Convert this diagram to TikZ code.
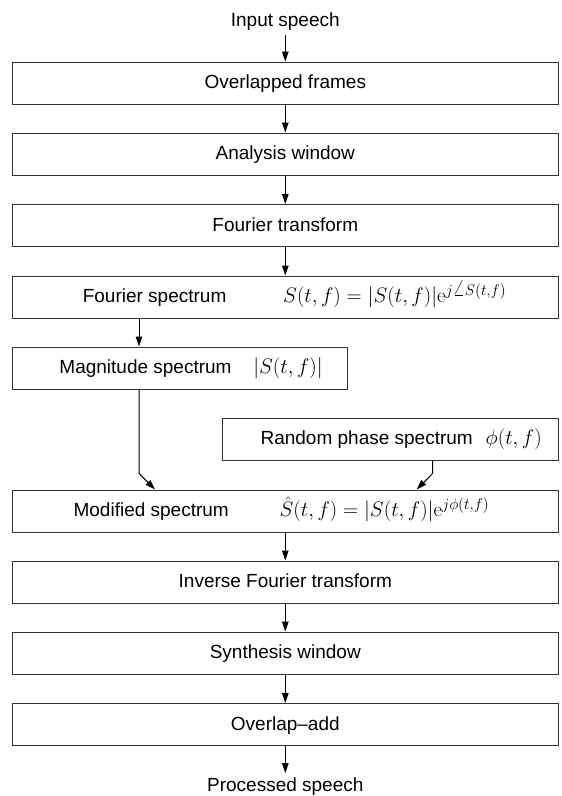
\documentclass[tikz,border=0pt]{standalone}
\usepackage{fix-cm}
\usepackage[no-math]{fontspec}
\setmainfont{Liberation Sans}
\DeclareMathSizes{21}{21}{15.5}{11}
\usetikzlibrary{arrows.meta}
\begin{document}
\begin{tikzpicture}[x=1pt,y=-1pt,
  every node/.style={font=\fontsize{19}{23}\selectfont},
  box/.style={draw=black!80, line width=1pt, minimum height=42pt, inner sep=0pt, text height=13.7pt, text depth=2pt},
  lbl/.style={inner sep=0pt, text height=13.7pt, text depth=2pt},
  mth/.style={lbl, font=\fontsize{21}{25}\selectfont},
  io/.style={inner sep=4pt, text height=13.7pt, text depth=4pt, anchor=base},
  arr/.style={draw=black, line width=1pt, -{Triangle[length=10pt,width=6.5pt]}}]
\useasboundingbox (0,0) rectangle (562,796);
% input / output
\node[io] (in) at (285.3,26.8) {Input speech};
\node[io] (out) at (285.3,791) {Processed speech};
% main boxes
\node[box, minimum width=546pt] (b1) at (285.3,83) {Overlapped frames};
\node[box, minimum width=546pt] (b2) at (285.3,154) {Analysis window};
\node[box, minimum width=546pt] (b3) at (285.3,225.5) {Fourier transform};
\node[box, minimum width=546pt] (b4) at (285.3,297) {};
\node[lbl] (b4t) at (154.6,297) {Fourier spectrum};
\node[mth] (b4m) at (394.7,297) {$S(t,f)=|S(t,f)|\mathrm{e}^{j\angle S(t,f)}$};
\node[box, minimum width=335.4pt] (b5) at (180,368) {};
\node[lbl] (b5t) at (145.5,368) {Magnitude spectrum};
\node[mth] (b5m) at (288,368) {$|S(t,f)|$};
\node[box, minimum width=335.6pt] (rp) at (390.5,439) {};
\node[lbl] (rpt) at (366.7,439) {Random phase spectrum};
\node[mth] (rpm) at (513.7,439) {$\phi(t,f)$};
\node[box, minimum width=546pt] (b6) at (285.3,511) {};
\node[lbl] (b6t) at (151.2,511) {Modified spectrum};
\node[mth] (b6m) at (384.5,511) {$\hat{S}(t,f)=|S(t,f)|\mathrm{e}^{j\phi(t,f)}$};
\node[box, minimum width=546pt] (b7) at (285.3,582) {Inverse Fourier transform};
\node[box, minimum width=546pt] (b8) at (285.3,653) {Synthesis window};
\node[box, minimum width=546pt] (b9) at (285.3,724.5) {Overlap--add};
% helper coordinates
\coordinate (xa) at (139,0);
\coordinate (xb) at (432.7,0);
\coordinate (bl) at (139,473.3);
\coordinate (br) at (432.7,473.3);
\coordinate (tl) at (155,0);
\coordinate (tr) at (416.7,0);
% connectors
\draw[arr] (in.south) -- (b1.north);
\draw[arr] (b1) -- (b2);
\draw[arr] (b2) -- (b3);
\draw[arr] (b3) -- (b4);
\draw[arr] (b4.south -| xa) -- (b5.north -| xa);
\draw[arr] (b5.south -| xa) -- (bl) -- (b6.north -| tl);
\draw[arr] (rp.south -| xb) -- (br) -- (b6.north -| tr);
\draw[arr] (b6) -- (b7);
\draw[arr] (b7) -- (b8);
\draw[arr] (b8) -- (b9);
\draw[arr] (b9.south) -- (out.north);
\end{tikzpicture}
\end{document}
